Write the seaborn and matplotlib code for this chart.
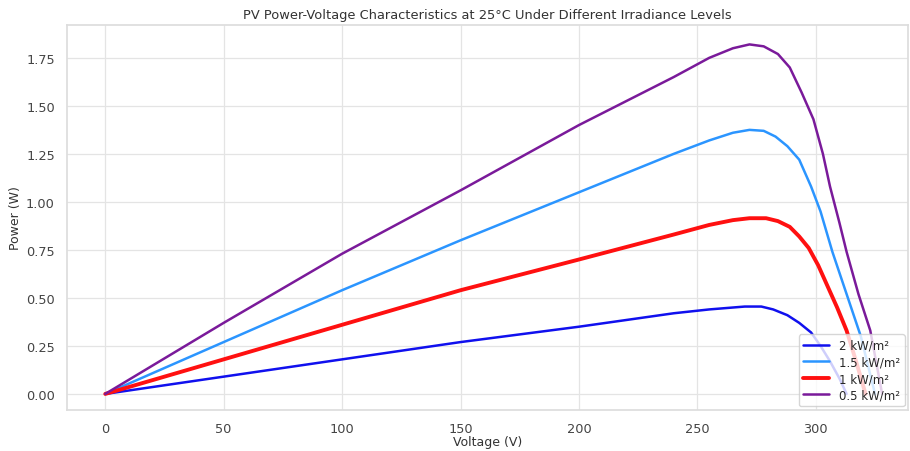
import numpy as np
import pandas as pd
import matplotlib
matplotlib.use("Agg")
import matplotlib.pyplot as plt
import seaborn as sns

# values
labels = ['2 kW/m²', '1.5 kW/m²', '1 kW/m²', '0.5 kW/m²']
colors = ['#1010ee', '#2b95ff', '#ff1010', '#7a1a9a']
widths = [1.8, 1.8, 2.8, 1.8]

v_2 = [0, 50, 100, 150, 200, 240, 255, 265, 270, 277, 282, 288, 293, 298, 302, 306, 310, 313]
p_2 = [0, 0.09, 0.18, 0.27, 0.35, 0.42, 0.44, 0.45, 0.455, 0.455, 0.44, 0.41, 0.37, 0.32, 0.25, 0.17, 0.08, 0.0]

v_15 = [0, 50, 100, 150, 200, 240, 255, 265, 272, 278, 283, 288, 293, 298, 302, 307, 313, 319, 325]
p_15 = [0, 0.27, 0.54, 0.80, 1.05, 1.25, 1.32, 1.36, 1.375, 1.37, 1.34, 1.29, 1.22, 1.08, 0.95, 0.74, 0.52, 0.30, 0.0]

v_1 = [0, 50, 100, 150, 200, 240, 255, 265, 272, 279, 284, 289, 293, 297, 301, 305, 309, 313, 317, 321]
p_1 = [0, 0.18, 0.36, 0.54, 0.70, 0.83, 0.88, 0.905, 0.915, 0.915, 0.90, 0.87, 0.82, 0.76, 0.67, 0.56, 0.45, 0.33, 0.17, 0.0]

v_05 = [0, 50, 100, 150, 200, 240, 255, 265, 272, 278, 284, 289, 294, 299, 303, 306, 310, 313, 318, 323, 328]
p_05 = [0, 0.37, 0.73, 1.06, 1.40, 1.65, 1.75, 1.80, 1.82, 1.81, 1.77, 1.70, 1.57, 1.43, 1.25, 1.08, 0.89, 0.74, 0.52, 0.33, 0.0]

sns.set_theme(style="whitegrid", rc={'grid.color': '#e4e4e4', 'grid.linewidth': 0.9,
                                     'axes.edgecolor': '#dddddd'})
plt.rcParams['font.family'] = ['DejaVu Sans']
fig, ax = plt.subplots(figsize=(9.1, 4.52), dpi=100)
fig.subplots_adjust(left=0.074, right=0.998, top=0.942, bottom=0.091)

series = [(v_2, p_2), (v_15, p_15), (v_1, p_1), (v_05, p_05)]
for (v, p), lab, c, w in zip(series, labels, colors, widths):
    sns.lineplot(x=v, y=p, ax=ax, color=c, lw=w, label=lab)

ax.set_xlim(-16, 339)
ax.set_ylim(-0.083, 1.92)
ax.set_yticks([0, 0.25, 0.5, 0.75, 1.0, 1.25, 1.5, 1.75])
ax.yaxis.set_major_formatter(matplotlib.ticker.FormatStrFormatter('%.2f'))
ax.tick_params(labelsize=9.3, colors='#444444', pad=3)
ax.set_xlabel('Voltage (V)', fontsize=9, color='#333333', labelpad=0)
ax.set_ylabel('Power (W)', fontsize=9, color='#333333', labelpad=3)
ax.set_title('PV Power-Voltage Characteristics at 25°C Under Different Irradiance Levels',
             fontsize=9.4, color='#333333', pad=5)
ax.legend(loc='lower right', fontsize=8.5, framealpha=0.8, borderaxespad=0.3,
          handlelength=2.2, labelspacing=0.3)
plt.savefig('out.png', dpi=100)
